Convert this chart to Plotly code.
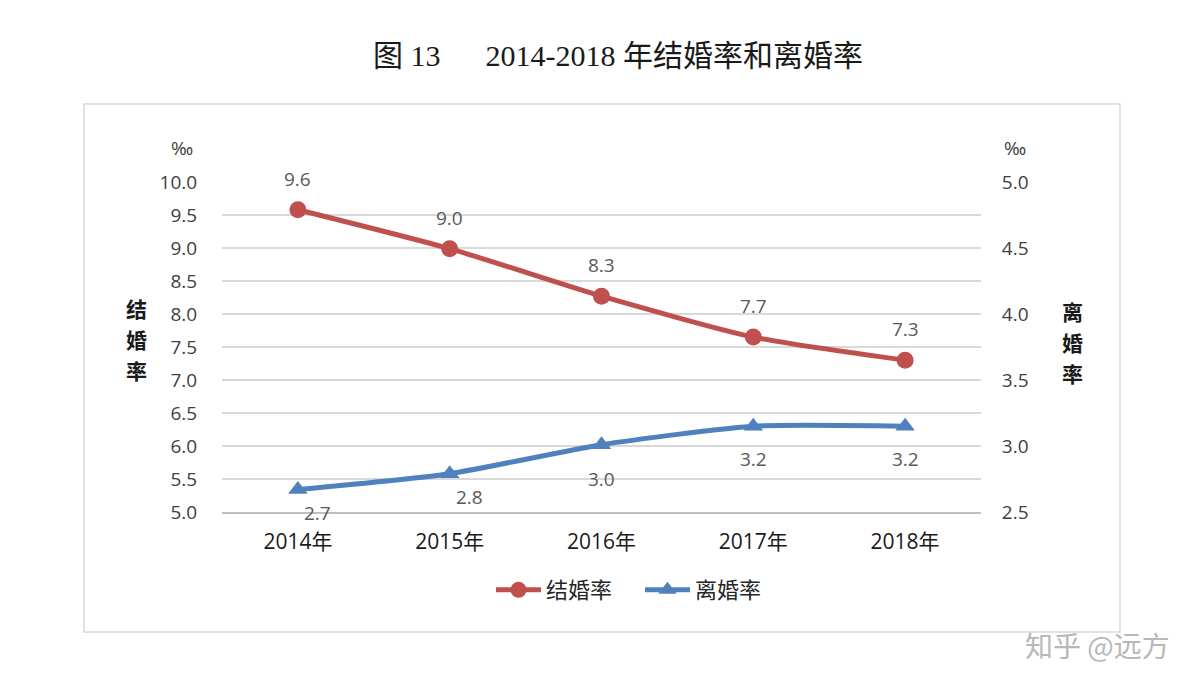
import plotly.graph_objects as go

years = ["2014年", "2015年", "2016年", "2017年", "2018年"]
marriage = [9.58, 8.99, 8.27, 7.65, 7.30]
marriage_labels = ["9.6", "9.0", "8.3", "7.7", "7.3"]
divorce = [2.67, 2.79, 3.01, 3.15, 3.15]
divorce_labels = ["2.7", "2.8", "3.0", "3.2", "3.2"]
left_ticks = [5.0, 5.5, 6.0, 6.5, 7.0, 7.5, 8.0, 8.5, 9.0, 9.5, 10.0]
right_ticks = [2.5, 3.0, 3.5, 4.0, 4.5, 5.0]
left_title = ["结", "婚", "率"]
right_title = ["离", "婚", "率"]

RED = "#c0504d"
BLUE = "#4f81bd"
W, H = 1195, 692
OFF = 8  # page body margin
# plot area in screenshot pixels: x 222..981, y 182..512
L = 222 - OFF
R = W - (981 - OFF)
T = 182 - OFF
B = H - (512 - OFF)
pw, ph = W - L - R, H - T - B


def px(x):
    return (x - OFF - L) / pw


def py(y):
    return (H - B - (y - OFF)) / ph


fig = go.Figure()
fig.add_trace(go.Scatter(
    x=years, y=marriage, name="结婚率", mode="lines+markers",
    line=dict(color=RED, width=5, shape="spline", smoothing=0.6),
    marker=dict(symbol="circle", size=17, color=RED),
))
fig.add_trace(go.Scatter(
    x=years, y=divorce, name="离婚率", mode="lines+markers", yaxis="y2",
    line=dict(color=BLUE, width=5, shape="spline", smoothing=0.6),
    marker=dict(symbol="triangle-up", size=17, color=BLUE),
))

label_font = dict(family="Open Sans, Noto Sans CJK SC", size=19, color="#595959")
for xv, yv, t in zip(years, marriage, marriage_labels):
    fig.add_annotation(x=xv, y=yv, text=t, showarrow=False, yshift=31,
                       xanchor="center", yanchor="middle",
                       font=label_font, xref="x", yref="y")
div_xshift = [20, 20, 0, 0, 0]
div_yshift = [-23, -23, -34, -33, -33]
for xv, yv, t, xs, ys in zip(years, divorce, divorce_labels, div_xshift, div_yshift):
    fig.add_annotation(x=xv, y=yv, text=t, showarrow=False, xshift=xs, yshift=ys,
                       xanchor="center", yanchor="middle",
                       font=label_font, xref="x", yref="y2")

tick_font = dict(family="Open Sans, Noto Sans CJK SC", size=19, color="#404040")


def paper_text(x, y, text, font):
    fig.add_annotation(x=px(x), y=py(y), xref="paper", yref="paper", text=text,
                       showarrow=False, xanchor="center", yanchor="middle", font=font)


# per-mille units
paper_text(182, 148, "‰", tick_font)
paper_text(1015, 148, "‰", tick_font)
# axis titles, one character per line
axis_title_font = dict(family="Noto Sans CJK SC", size=21, color="#1a1a1a", weight=600)
for ch, yy in zip(left_title, [308, 339, 370]):
    paper_text(136, yy, ch, axis_title_font)
for ch, yy in zip(right_title, [311, 342, 373]):
    paper_text(1072, yy, ch, axis_title_font)
# title
paper_text(618, 55, "图 13\u00a0\u00a0\u00a0\u00a0\u00a0\u00a02014-2018 年结婚率和离婚率",
           dict(family="Liberation Serif, Noto Sans CJK SC", size=30, color="#1a1a1a"))
# watermark
paper_text(1097, 645, "知乎 @远方",
           dict(family="Noto Sans CJK SC", size=28, color="#b8b8b8"))

# chart border
fig.add_shape(type="rect", xref="paper", yref="paper",
              x0=px(84), x1=px(1120), y0=py(632), y1=py(104),
              line=dict(color="#d9d9d9", width=1.5), fillcolor="rgba(0,0,0,0)", layer="below")

fig.update_layout(
    width=W, height=H,
    margin=dict(l=L, r=R, t=T, b=B),
    paper_bgcolor="white", plot_bgcolor="white",
    showlegend=True,
    legend=dict(orientation="h", x=px(640), xanchor="center", y=py(590), yanchor="middle",
                font=dict(family="Noto Sans CJK SC", size=22, color="#262626"),
                itemwidth=45, entrywidth=89, bgcolor="rgba(0,0,0,0)"),
    xaxis=dict(type="category", range=[-0.5, 4.5], showgrid=False,
               showline=True, linecolor="#bfbfbf", linewidth=2,
               ticks="outside", ticklen=10, tickcolor="rgba(0,0,0,0)",
               tickfont=dict(family="Open Sans, Noto Sans CJK SC", size=21, color="#1a1a1a")),
    yaxis=dict(range=[5, 10], tickvals=left_ticks, tickformat=".1f",
               showgrid=True, gridcolor="#d9d9d9", gridwidth=1.5, zeroline=False,
               ticks="outside", ticklen=20, tickcolor="rgba(0,0,0,0)",
               tickfont=tick_font),
    yaxis2=dict(range=[2.5, 5.0], tickvals=right_ticks, tickformat=".1f",
                overlaying="y", side="right", showgrid=False, zeroline=False,
                ticks="outside", ticklen=16, tickcolor="rgba(0,0,0,0)",
                tickfont=tick_font),
)

fig.write_html("out.html")
